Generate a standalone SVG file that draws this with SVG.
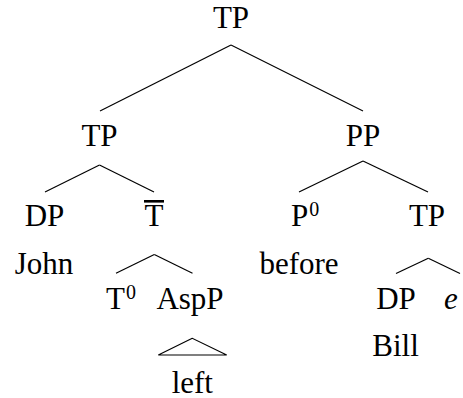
<svg xmlns="http://www.w3.org/2000/svg" width="463" height="398" viewBox="0 0 463 398">
<style>
text{font-family:'Liberation Serif','Times New Roman',serif;font-size:31px;fill:#000;text-anchor:middle}
.st{text-anchor:start}
.sup{font-size:20px}
line,polygon{stroke:#000;stroke-width:1.2;fill:none}
</style>
<rect width="463" height="398" fill="#fff"/>
<g id="connectors">
<line x1="231" y1="45" x2="100" y2="111"/>
<line x1="231" y1="45" x2="363" y2="111"/>
<line x1="99.5" y1="165" x2="45" y2="192"/>
<line x1="99.5" y1="165" x2="154" y2="192"/>
<line x1="363" y1="161" x2="299" y2="192"/>
<line x1="363" y1="161" x2="428" y2="192"/>
<line x1="154.3" y1="254.5" x2="116" y2="273.3"/>
<line x1="154.3" y1="254.5" x2="192.5" y2="273.3"/>
<line x1="428.3" y1="258.3" x2="396" y2="273.5"/>
<line x1="428.3" y1="258.3" x2="460" y2="273.5"/>
<polygon points="192.3,338.3 158.3,355 226.7,355"/>
</g>
<g id="n-root"><text x="231" y="27.5">TP</text></g>
<g id="n-tp"><text x="99.5" y="145.5">TP</text></g>
<g id="n-pp"><text x="363" y="145.5">PP</text></g>
<g id="n-dp1"><text x="44.5" y="226">DP</text></g>
<g id="n-tbar"><rect x="144" y="200" width="20" height="2.6" fill="#000"/><text x="154" y="226">T</text></g>
<g id="n-p0"><text class="st" x="291" y="226">P<tspan class="sup" dx="1" dy="-10">0</tspan></text></g>
<g id="n-tp2"><text x="427" y="226">TP</text></g>
<g id="n-john"><text x="44" y="274">John</text></g>
<g id="n-before"><text x="299" y="274">before</text></g>
<g id="n-t0"><text class="st" x="106" y="308.5">T<tspan class="sup" dx="1" dy="-10">0</tspan></text></g>
<g id="n-aspp"><text x="190" y="308.5">AspP</text></g>
<g id="n-dp2"><text x="396" y="308.5">DP</text></g>
<g id="n-e"><text class="st" x="444" y="308.5" font-style="italic">e</text></g>
<g id="n-bill"><text x="395.5" y="355.5">Bill</text></g>
<g id="n-left"><text x="192.3" y="392.5">left</text></g>
</svg>
